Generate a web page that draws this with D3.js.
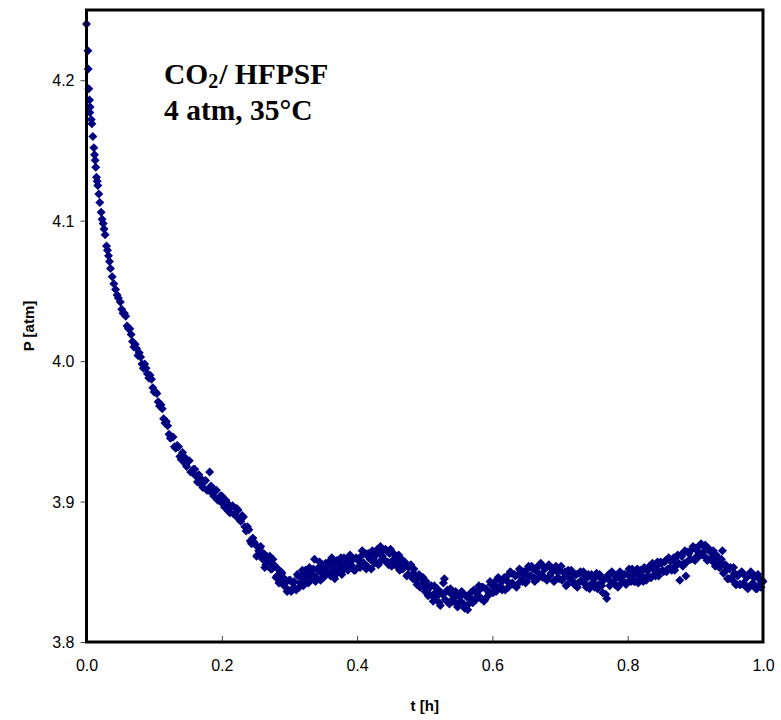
<!DOCTYPE html>
<html>
<head>
<meta charset="utf-8">
<script src="https://cdn.jsdelivr.net/npm/d3@7"></script>
<style>
  html, body { margin: 0; padding: 0; background: #fff; }
  svg { display: block; }
</style>
</head>
<body>
<svg id="chart" width="781" height="720"></svg>
<script>
// ---------- DATA (t in hours, P in atm) ----------
const xTicks = [0.0, 0.2, 0.4, 0.6, 0.8, 1.0];
const yTicks = [3.8, 3.9, 4.0, 4.1, 4.2];
const xLabel = "t [h]";
const yLabel = "P [atm]";
const titleLine1 = ["CO", "2", "/ HFPSF"];
const titleLine2 = "4 atm, 35°C";

// steep initial drop
const initialDrop = [
  [0.000,4.240],[0.002,4.221],[0.0025,4.208],[0.0034,4.194],[0.0044,4.186],[0.0049,4.177],
  [0.0054,4.181],[0.0069,4.172],[0.0079,4.169],[0.0093,4.160],[0.0108,4.152],[0.0118,4.147],
  [0.0128,4.143],[0.0137,4.138],[0.0148,4.131],[0.0158,4.128],[0.0167,4.125],[0.0182,4.119],
  [0.0197,4.113],[0.0216,4.106],[0.0230,4.101],[0.0246,4.098],[0.0260,4.094],[0.0275,4.090],
  [0.0296,4.082],[0.0310,4.079],[0.0325,4.075],[0.0340,4.071],[0.0355,4.066],[0.0380,4.060],
  [0.0404,4.055],[0.0430,4.051],[0.0453,4.047],[0.0470,4.045]
];

// slower decay
const decayA = [
  [0.050,4.042],[0.054,4.034],[0.058,4.032],[0.062,4.023],[0.066,4.019],[0.070,4.010],
  [0.074,4.009],[0.078,4.006],[0.082,3.998],[0.086,3.998],[0.090,3.991],[0.094,3.990],
  [0.098,3.981],[0.102,3.978],[0.106,3.971],[0.110,3.969],[0.114,3.959],[0.118,3.957],
  [0.122,3.948],[0.126,3.946],[0.130,3.939],[0.134,3.940],[0.138,3.932],[0.142,3.935],
  [0.146,3.927],[0.150,3.929],[0.154,3.921],[0.158,3.923],[0.162,3.918],[0.166,3.919],
  [0.170,3.912],[0.174,3.914],[0.178,3.908],[0.182,3.921],[0.186,3.906],[0.190,3.908],
  [0.194,3.901],[0.198,3.904],[0.202,3.898],[0.206,3.901],[0.210,3.893],[0.214,3.896],
  [0.218,3.891],[0.222,3.895],[0.226,3.887],[0.230,3.890],[0.234,3.882],[0.238,3.882],
  [0.242,3.872],[0.246,3.874]
];
const decayB = [
  [0.052,4.037],[0.056,4.034],[0.060,4.025],[0.064,4.023],[0.068,4.014],[0.072,4.012],
  [0.076,4.004],[0.080,4.003],[0.084,3.995],[0.088,3.995],[0.092,3.988],[0.096,3.987],
  [0.100,3.978],[0.104,3.977],[0.108,3.968],[0.112,3.966],[0.116,3.956],[0.120,3.954],
  [0.124,3.945],[0.128,3.946],[0.132,3.938],[0.136,3.939],[0.140,3.930],[0.144,3.932],
  [0.148,3.925],[0.152,3.929],[0.156,3.921],[0.160,3.923],[0.164,3.914],[0.168,3.917],
  [0.172,3.910],[0.176,3.915],[0.180,3.908],[0.184,3.911],[0.188,3.904],[0.192,3.908],
  [0.196,3.901],[0.200,3.904],[0.204,3.896],[0.208,3.899],[0.212,3.892],[0.216,3.897],
  [0.220,3.890],[0.224,3.894],[0.228,3.886],[0.232,3.889],[0.236,3.879],[0.240,3.880],
  [0.244,3.870],[0.248,3.871]
];

// fluctuating plateau (two interleaved sampling sets)
const plateauA = [
  [0.250,3.869],[0.253,3.862],[0.256,3.867],[0.259,3.860],[0.262,3.863],[0.265,3.855],
  [0.268,3.859],[0.271,3.861],[0.274,3.852],[0.277,3.855],[0.280,3.846],[0.283,3.852],
  [0.286,3.845],[0.289,3.849],[0.292,3.840],[0.295,3.844],[0.298,3.837],[0.301,3.844],
  [0.304,3.838],[0.307,3.843],[0.310,3.837],[0.313,3.847],[0.316,3.842],[0.319,3.851],
  [0.322,3.844],[0.325,3.849],[0.328,3.842],[0.331,3.852],[0.334,3.848],[0.337,3.859],
  [0.340,3.846],[0.343,3.853],[0.346,3.844],[0.349,3.855],[0.352,3.852],[0.355,3.849],
  [0.358,3.857],[0.361,3.847],[0.364,3.855],[0.367,3.845],[0.370,3.858],[0.373,3.852],
  [0.376,3.860],[0.379,3.851],[0.382,3.856],[0.385,3.852],[0.388,3.860],[0.391,3.855],
  [0.394,3.859],[0.397,3.851],[0.400,3.859],[0.403,3.854],[0.406,3.861],[0.409,3.856],
  [0.412,3.863],[0.415,3.854],[0.418,3.860],[0.421,3.852],[0.424,3.862],[0.427,3.857],
  [0.430,3.866],[0.433,3.857],[0.436,3.864],[0.439,3.859],[0.442,3.866],[0.445,3.857],
  [0.448,3.863],[0.451,3.854],[0.454,3.863],[0.457,3.856],[0.460,3.860],[0.463,3.851],
  [0.466,3.859],[0.469,3.853],[0.472,3.855],[0.475,3.848],[0.478,3.854],[0.481,3.848],
  [0.484,3.852],[0.487,3.844],[0.490,3.847],[0.493,3.839],[0.496,3.845],[0.499,3.839],
  [0.502,3.843],[0.505,3.833],[0.508,3.839],[0.511,3.833],[0.514,3.840],[0.517,3.832],
  [0.520,3.836],[0.523,3.826],[0.526,3.834],[0.529,3.845],[0.532,3.836],[0.535,3.828],
  [0.538,3.838],[0.541,3.829],[0.544,3.834],[0.547,3.827],[0.550,3.834],[0.553,3.829],
  [0.556,3.835],[0.559,3.824],[0.562,3.832],[0.565,3.827],[0.568,3.835],[0.571,3.828],
  [0.574,3.836],[0.577,3.832],[0.580,3.840],[0.583,3.831],[0.586,3.839],[0.589,3.830],
  [0.592,3.837],[0.595,3.835],[0.598,3.841],[0.601,3.835],[0.604,3.843],[0.607,3.838],
  [0.610,3.845],[0.613,3.838],[0.616,3.844],[0.619,3.837],[0.622,3.847],[0.625,3.842],
  [0.628,3.849],[0.631,3.841],[0.634,3.847],[0.637,3.841],[0.640,3.852],[0.643,3.844],
  [0.646,3.850],[0.649,3.842],[0.652,3.852],[0.655,3.847],[0.658,3.854],[0.661,3.846],
  [0.664,3.851],[0.667,3.845],[0.670,3.855],[0.673,3.848],[0.676,3.853],[0.679,3.845],
  [0.682,3.854],[0.685,3.847],[0.688,3.852],[0.691,3.843],[0.694,3.854],[0.697,3.846],
  [0.700,3.851],[0.703,3.844],[0.706,3.849],[0.709,3.840],[0.712,3.851],[0.715,3.845],
  [0.718,3.849],[0.721,3.841],[0.724,3.848],[0.727,3.842],[0.730,3.850],[0.733,3.843],
  [0.736,3.848],[0.739,3.839],[0.742,3.848],[0.745,3.841],[0.748,3.846],[0.751,3.839],
  [0.754,3.849],[0.757,3.841],[0.760,3.846],[0.763,3.835],[0.766,3.845],[0.769,3.831],
  [0.772,3.848],[0.775,3.843],[0.778,3.849],[0.781,3.841],[0.784,3.846],[0.787,3.840],
  [0.790,3.849],[0.793,3.843],[0.796,3.848],[0.799,3.842],[0.802,3.852],[0.805,3.843],
  [0.808,3.848],[0.811,3.843],[0.814,3.852],[0.817,3.845],[0.820,3.850],[0.823,3.843],
  [0.826,3.852],[0.829,3.847],[0.832,3.854],[0.835,3.846],[0.838,3.852],[0.841,3.847],
  [0.844,3.857],[0.847,3.850],[0.850,3.856],[0.853,3.850],[0.856,3.858],[0.859,3.852],
  [0.862,3.858],[0.865,3.851],[0.868,3.860],[0.871,3.854],[0.874,3.862],[0.877,3.844],
  [0.880,3.861],[0.883,3.856],[0.886,3.847],[0.889,3.864],[0.892,3.859],[0.895,3.866],
  [0.898,3.859],[0.901,3.867],[0.904,3.862],[0.907,3.869],[0.910,3.862],[0.913,3.868],
  [0.916,3.860],[0.919,3.867],[0.922,3.859],[0.925,3.863],[0.928,3.856],[0.931,3.862],
  [0.934,3.854],[0.937,3.857],[0.940,3.865],[0.943,3.850],[0.946,3.854],[0.949,3.845],
  [0.952,3.853],[0.955,3.844],[0.958,3.849],[0.961,3.841],[0.964,3.848],[0.967,3.841],
  [0.970,3.849],[0.973,3.840],[0.976,3.846],[0.979,3.839],[0.982,3.850],[0.985,3.842],
  [0.988,3.847],[0.991,3.838],[0.994,3.845],[0.997,3.839],[1.000,3.843]
];
const plateauB = [
  [0.2515,3.861],[0.2545,3.865],[0.2575,3.868],[0.2605,3.859],[0.2635,3.853],[0.2665,3.861],
  [0.2695,3.857],[0.2725,3.852],[0.2755,3.859],[0.2785,3.854],[0.2815,3.847],[0.2845,3.842],
  [0.2875,3.850],[0.2905,3.846],[0.2935,3.842],[0.2965,3.836],[0.2995,3.844],[0.3025,3.836],
  [0.3055,3.842],[0.3085,3.838],[0.3115,3.848],[0.3145,3.839],[0.3175,3.847],[0.3205,3.840],
  [0.3235,3.851],[0.3265,3.847],[0.3295,3.853],[0.3325,3.846],[0.3355,3.852],[0.3385,3.843],
  [0.3415,3.851],[0.3445,3.857],[0.3475,3.849],[0.3505,3.846],[0.3535,3.856],[0.3565,3.854],
  [0.3595,3.849],[0.3625,3.860],[0.3655,3.852],[0.3685,3.848],[0.3715,3.857],[0.3745,3.854],
  [0.3775,3.848],[0.3805,3.860],[0.3835,3.857],[0.3865,3.851],[0.3895,3.862],[0.3925,3.854],
  [0.3955,3.851],[0.3985,3.860],[0.4015,3.858],[0.4045,3.853],[0.4075,3.865],[0.4105,3.856],
  [0.4135,3.852],[0.4165,3.863],[0.4195,3.859],[0.4225,3.865],[0.4255,3.856],[0.4285,3.862],
  [0.4315,3.855],[0.4345,3.868],[0.4375,3.861],[0.4405,3.858],[0.4435,3.865],[0.4465,3.855],
  [0.4495,3.866],[0.4525,3.858],[0.4555,3.862],[0.4585,3.854],[0.4615,3.862],[0.4645,3.857],
  [0.4675,3.852],[0.4705,3.857],[0.4735,3.847],[0.4765,3.853],[0.4795,3.855],[0.4825,3.845],
  [0.4855,3.848],[0.4885,3.841],[0.4915,3.848],[0.4945,3.841],[0.4975,3.846],[0.5005,3.836],
  [0.5035,3.840],[0.5065,3.834],[0.5095,3.840],[0.5125,3.829],[0.5155,3.835],[0.5185,3.838],
  [0.5215,3.828],[0.5245,3.835],[0.5275,3.842],[0.5305,3.830],[0.5335,3.837],[0.5365,3.827],
  [0.5395,3.834],[0.5425,3.831],[0.5455,3.836],[0.5485,3.825],[0.5515,3.832],[0.5545,3.836],
  [0.5575,3.827],[0.5605,3.833],[0.5635,3.823],[0.5665,3.832],[0.5695,3.829],[0.5725,3.837],
  [0.5755,3.830],[0.5785,3.836],[0.5815,3.832],[0.5845,3.839],[0.5875,3.829],[0.5905,3.838],
  [0.5935,3.833],[0.5965,3.843],[0.5995,3.836],[0.6025,3.840],[0.6055,3.836],[0.6085,3.846],
  [0.6115,3.840],[0.6145,3.837],[0.6175,3.846],[0.6205,3.844],[0.6235,3.839],[0.6265,3.850],
  [0.6295,3.842],[0.6325,3.848],[0.6355,3.839],[0.6385,3.848],[0.6415,3.851],[0.6445,3.843],
  [0.6475,3.848],[0.6505,3.843],[0.6535,3.854],[0.6565,3.847],[0.6595,3.852],[0.6625,3.843],
  [0.6655,3.853],[0.6685,3.849],[0.6715,3.856],[0.6745,3.846],[0.6775,3.852],[0.6805,3.844],
  [0.6835,3.855],[0.6865,3.849],[0.6895,3.852],[0.6925,3.844],[0.6955,3.850],[0.6985,3.845],
  [0.7015,3.854],[0.7045,3.845],[0.7075,3.850],[0.7105,3.841],[0.7135,3.847],[0.7165,3.851],
  [0.7195,3.843],[0.7225,3.848],[0.7255,3.839],[0.7285,3.849],[0.7315,3.844],[0.7345,3.850],
  [0.7375,3.841],[0.7405,3.846],[0.7435,3.838],[0.7465,3.848],[0.7495,3.842],[0.7525,3.846],
  [0.7555,3.838],[0.7585,3.848],[0.7615,3.840],[0.7645,3.844],[0.7675,3.834],[0.7705,3.847],
  [0.7735,3.840],[0.7765,3.850],[0.7795,3.842],[0.7825,3.846],[0.7855,3.839],[0.7885,3.850],
  [0.7915,3.844],[0.7945,3.848],[0.7975,3.841],[0.8005,3.848],[0.8035,3.844],[0.8065,3.852],
  [0.8095,3.843],[0.8125,3.849],[0.8155,3.842],[0.8185,3.851],[0.8215,3.847],[0.8245,3.853],
  [0.8275,3.844],[0.8305,3.851],[0.8335,3.846],[0.8365,3.856],[0.8395,3.848],[0.8425,3.854],
  [0.8455,3.847],[0.8485,3.857],[0.8515,3.851],[0.8545,3.857],[0.8575,3.850],[0.8605,3.860],
  [0.8635,3.853],[0.8665,3.858],[0.8695,3.851],[0.8725,3.861],[0.8755,3.856],[0.8785,3.862],
  [0.8815,3.854],[0.8845,3.865],[0.8875,3.857],[0.8905,3.863],[0.8935,3.859],[0.8965,3.868],
  [0.8995,3.858],[0.9025,3.865],[0.9055,3.861],[0.9085,3.870],[0.9115,3.864],[0.9145,3.869],
  [0.9175,3.858],[0.9205,3.865],[0.9235,3.859],[0.9265,3.865],[0.9295,3.854],[0.9325,3.860],
  [0.9355,3.853],[0.9385,3.859],[0.9415,3.849],[0.9445,3.855],[0.9475,3.845],[0.9505,3.852],
  [0.9535,3.846],[0.9565,3.853],[0.9595,3.841],[0.9625,3.847],[0.9655,3.841],[0.9685,3.850],
  [0.9715,3.842],[0.9745,3.847],[0.9775,3.838],[0.9805,3.848],[0.9835,3.841],[0.9865,3.846],
  [0.9895,3.838],[0.9925,3.848],[0.9955,3.841],[0.9985,3.844]
];

// ---------- CHART ----------
const svg = d3.select("#chart");
const plot = { left: 86.5, right: 763, top: 10, bottom: 642 };

const x = d3.scaleLinear().domain([0, 1]).range([plot.left, plot.right]);
const y = d3.scaleLinear().domain([3.8, 4.25]).range([plot.bottom, plot.top]);

const allPoints = [].concat(initialDrop, decayA, decayB, plateauA, plateauB);

// markers (diamonds)
const r = 4.5;
const diamond = `M0,${-r}L${r},0L0,${r}L${-r},0Z`;
svg.append("g")
  .selectAll("path")
  .data(allPoints)
  .join("path")
  .attr("d", diamond)
  .attr("transform", d => `translate(${x(d[0])},${y(d[1])})`)
  .attr("fill", "#000080");

// axes
const fmt = d3.format(".1f");
const yAxis = svg.append("g")
  .attr("transform", `translate(${plot.left},0)`)
  .call(d3.axisLeft(y).tickValues(yTicks).tickFormat(fmt).tickSize(6).tickSizeOuter(0));
const xAxis = svg.append("g")
  .attr("transform", `translate(0,${plot.bottom})`)
  .call(d3.axisBottom(x).tickValues(xTicks).tickFormat(fmt).tickSize(-6).tickSizeOuter(0));

[yAxis, xAxis].forEach(g => {
  g.select(".domain").remove();
  g.selectAll(".tick line").attr("stroke", "#444").attr("stroke-width", 1);
  g.selectAll(".tick text")
    .attr("fill", "#000")
    .style("font-family", "'Liberation Sans', Arial, sans-serif")
    .style("font-size", "16px");
});
yAxis.selectAll(".tick text").attr("x", -12).attr("dy", "0.36em");
xAxis.selectAll(".tick text").attr("y", 18).attr("dy", "0.71em");

// frame
svg.append("rect")
  .attr("x", plot.left).attr("y", plot.top)
  .attr("width", plot.right - plot.left).attr("height", plot.bottom - plot.top)
  .attr("fill", "none").attr("stroke", "#000").attr("stroke-width", 3);

// axis titles
svg.append("text")
  .attr("x", (plot.left + plot.right) / 2).attr("y", 711)
  .attr("text-anchor", "middle")
  .style("font-family", "'Liberation Sans', Arial, sans-serif")
  .style("font-size", "15px").style("font-weight", "bold")
  .text(xLabel);
svg.append("text")
  .attr("transform", `translate(34,${(plot.top + plot.bottom) / 2}) rotate(-90)`)
  .attr("text-anchor", "middle")
  .style("font-family", "'Liberation Sans', Arial, sans-serif")
  .style("font-size", "15px").style("font-weight", "bold")
  .text(yLabel);

// annotation
const ann = svg.append("g")
  .style("font-family", "'Liberation Serif', 'Times New Roman', serif")
  .style("font-weight", "bold")
  .style("font-size", "29.5px")
  .attr("fill", "#000");
const l1 = ann.append("text").attr("x", 164).attr("y", 84);
l1.append("tspan").text(titleLine1[0]);
l1.append("tspan").attr("dy", 4).style("font-size", "20px").text(titleLine1[1]);
l1.append("tspan").attr("dy", -4).attr("dx", 1).text(titleLine1[2]);
ann.append("text").attr("x", 164).attr("y", 120).text(titleLine2);
</script>
</body>
</html>
